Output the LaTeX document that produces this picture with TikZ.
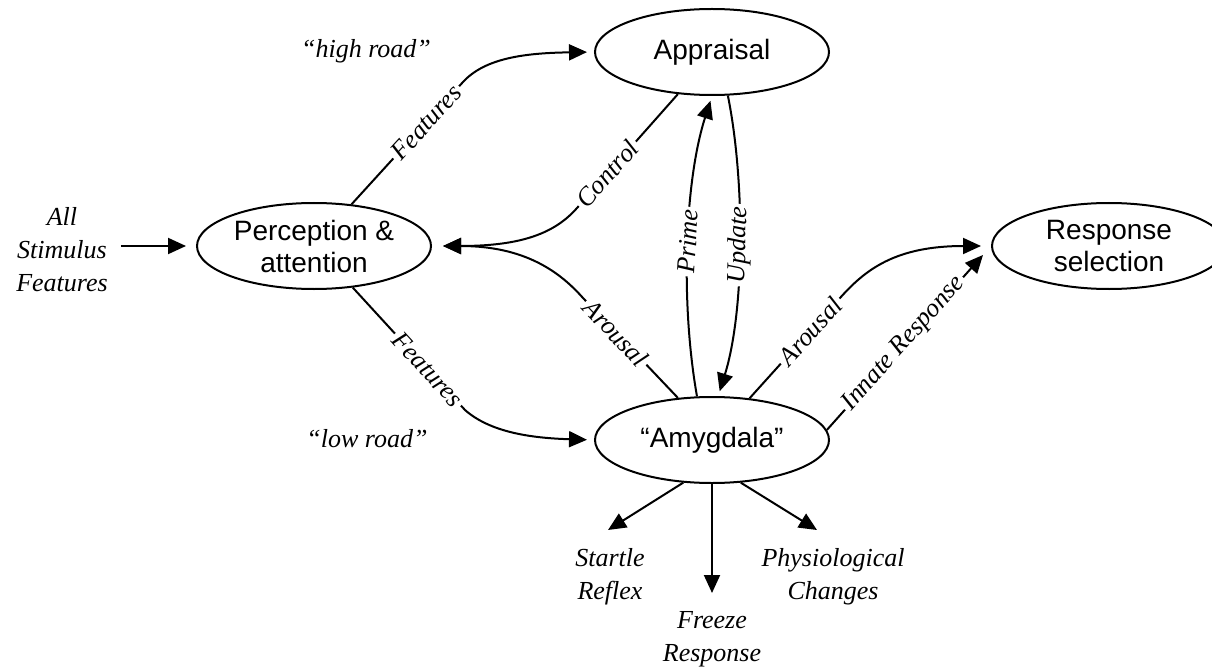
\documentclass[tikz,border=0pt]{standalone}
\usepackage{fontspec}
\setmainfont{Liberation Serif}
\setsansfont{Liberation Sans}
\usetikzlibrary{arrows.meta,shapes.geometric}
\begin{document}
\begin{tikzpicture}[x=1pt,y=-1pt,
  box/.style={draw, ellipse, line width=2pt, minimum width=234pt, minimum height=86pt,
    inner sep=0pt, align=center, font=\sffamily\fontsize{28}{32}\selectfont},
  lbl/.style={font=\itshape\fontsize{26}{33}\selectfont, align=center, inner sep=0pt},
  onpath/.style={font=\itshape\fontsize{26}{33}\selectfont, sloped, fill=white, inner sep=3pt},
  conn/.style={line width=2pt},
  arr/.style={conn, -{Triangle[length=18pt,width=16pt]}},
]
\useasboundingbox (0,0) rectangle (1212,671);

% main processing stages
\node[box] (appr) at (712,52) {Appraisal};
\node[box] (perc) at (314,246) {Perception \&\\attention};
\node[box] (amyg) at (712,440) {“Amygdala”};
\node[box] (resp) at (1109,246) {Response\\selection};

% free-standing labels
\node[lbl] (stim) at (62,250) {All\\Stimulus\\Features};
\node[lbl] (high) at (366,51) {“high road”};
\node[lbl] (low) at (367,439) {“low road”};
\node[lbl] (startle) at (610,577) {Startle\\Reflex};
\node[lbl] (freeze) at (712,639) {Freeze\\Response};
\node[lbl] (physio) at (833,577) {Physiological\\Changes};

% tips of the output arrows
\coordinate (sttip) at (608,530);
\coordinate (frtip) at (712,593);
\coordinate (phtip) at (817,530);

% input
\draw[arr, shorten <=13pt, shorten >=10pt] (stim.east |- perc.west) -- (perc.west);

% high road
\draw[arr, shorten >=7pt] (perc.48) -- node[onpath, pos=0.67]{Features} (463,82)
  .. controls (485,58) and (525,53) .. (appr.west);

% low road
\draw[arr, shorten >=7pt] (perc.313) -- node[onpath, pos=0.67]{Features} (465,410)
  .. controls (490,432) and (530,438) .. (amyg.west);

% feedback to perception
\draw[arr, shorten >=11pt] (appr.231) -- node[onpath, pos=0.7]{Control} (577,208)
  .. controls (555,233) and (522,246) .. (perc.east);
\draw[arr, shorten >=11pt] (amyg.129) -- node[onpath, pos=0.65]{Arousal} (583,298)
  .. controls (560,272) and (525,246) .. (perc.east);

% appraisal <-> amygdala
\draw[arr, shorten >=5pt] (amyg.109) .. controls (680,300) and (685,180) ..
  node[onpath, pos=0.5]{Prime} (appr.south);
\draw[arr, shorten >=5pt] (appr.290) .. controls (745,180) and (745,310) ..
  node[onpath, pos=0.5]{Update} (amyg.82);

% amygdala -> response selection
\draw[arr, shorten >=10pt] (amyg.48) -- node[onpath, pos=0.67]{Arousal} (840,298)
  .. controls (865,270) and (895,246) .. (resp.west);
\draw[arr, shorten >=12pt] (amyg.5) -- node[onpath, pos=0.47]{Innate Response} (resp.west);

% direct outputs
\draw[arr] (amyg.236) -- (sttip);
\draw[arr] (amyg.south) -- (frtip);
\draw[arr] (amyg.304) -- (phtip);
\end{tikzpicture}
\end{document}
